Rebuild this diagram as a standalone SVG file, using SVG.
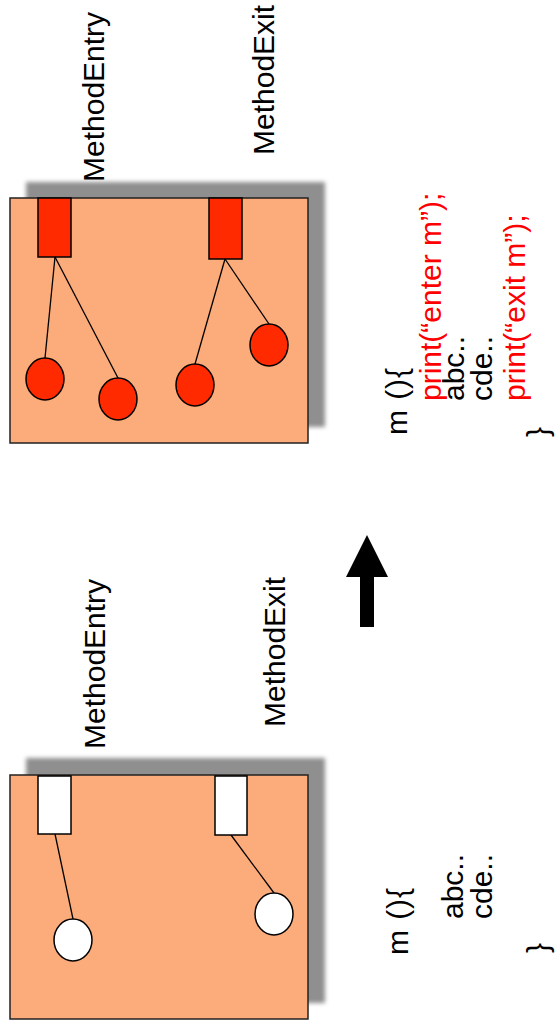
<svg xmlns="http://www.w3.org/2000/svg" width="557" height="1028" viewBox="0 0 557 1028">
<defs>
<filter id="blur" x="-10%" y="-10%" width="120%" height="120%"><feGaussianBlur stdDeviation="2"/></filter>
</defs>
<style>
.shadow{fill:#8f8f8f;filter:url(#blur)}
.box{fill:#fcab7a;stroke:#222;stroke-width:1.5}
.probe{stroke:#000;stroke-width:1.5}
.on{fill:#ff2a00}
.off{fill:#ffffff}
.conn line{stroke:#000;stroke-width:1.3}
text{font-family:"Liberation Sans",Arial,sans-serif;font-size:30px;fill:#000}
.red{fill:#ff0000}
</style>
<rect width="557" height="1028" fill="#ffffff"/>

<!-- Top panel (instrumented) -->
<g id="panel-top">
<rect class="shadow" x="26" y="182" width="299" height="245"/>
<rect class="box" x="10" y="198" width="298" height="245"/>
</g>
<!-- Bottom panel (original) -->
<g id="panel-bottom">
<rect class="shadow" x="26" y="758" width="299" height="245"/>
<rect class="box" x="10" y="775" width="298" height="244"/>
</g>

<g id="connectors" class="conn">
<line x1="55" y1="257" x2="45" y2="358"/>
<line x1="55" y1="257" x2="118" y2="378"/>
<line x1="225" y1="259" x2="195" y2="364"/>
<line x1="225" y1="259" x2="269" y2="324"/>
<line x1="55" y1="834" x2="73" y2="919"/>
<line x1="231" y1="835" x2="274" y2="893"/>
</g>

<g id="top-entry"><rect class="probe on" x="38" y="198" width="33" height="59"/></g>
<g id="top-exit"><rect class="probe on" x="209" y="198" width="33" height="61"/></g>
<g id="top-c1"><ellipse class="probe on" cx="45" cy="379" rx="19" ry="21"/></g>
<g id="top-c2"><ellipse class="probe on" cx="118" cy="399" rx="19" ry="21"/></g>
<g id="top-c3"><ellipse class="probe on" cx="195" cy="385" rx="19" ry="21"/></g>
<g id="top-c4"><ellipse class="probe on" cx="269" cy="345" rx="19" ry="21"/></g>

<g id="bottom-entry"><rect class="probe off" x="38" y="776" width="33" height="58"/></g>
<g id="bottom-exit"><rect class="probe off" x="215" y="776" width="32" height="59"/></g>
<g id="bottom-c1"><ellipse class="probe off" cx="73" cy="940" rx="19" ry="21"/></g>
<g id="bottom-c2"><ellipse class="probe off" cx="274" cy="914" rx="19" ry="21"/></g>

<!-- Labels -->
<g id="labels">
<text transform="translate(104,182) rotate(-90)">MethodEntry</text>
<text transform="translate(274,155) rotate(-90)">MethodExit</text>
<text transform="translate(105,749) rotate(-90)">MethodEntry</text>
<text transform="translate(285,727) rotate(-90)">MethodExit</text>
</g>

<!-- Code, top -->
<g id="code-top">
<text transform="translate(407,435) rotate(-90)" textLength="67" lengthAdjust="spacing">m (){</text>
<text class="red" transform="translate(441,401) rotate(-90)">print(“enter m”);</text>
<text transform="translate(464,401) rotate(-90)">abc..</text>
<text transform="translate(492,401) rotate(-90)">cde..</text>
<text class="red" transform="translate(525,401) rotate(-90)">print(“exit m”);</text>
<text transform="translate(548,437) rotate(-90)">}</text>
</g>

<!-- Code, bottom -->
<g id="code-bottom">
<text transform="translate(408,955) rotate(-90)" textLength="67" lengthAdjust="spacing">m (){</text>
<text transform="translate(463,919) rotate(-90)">abc..</text>
<text transform="translate(492,919) rotate(-90)">cde..</text>
<text transform="translate(548,953) rotate(-90)">}</text>
</g>

<!-- Arrow -->
<g id="arrow">
<polygon points="367,535 388,577 374,577 374,627 360,627 360,577 346,577" fill="#000"/>
</g>
</svg>
